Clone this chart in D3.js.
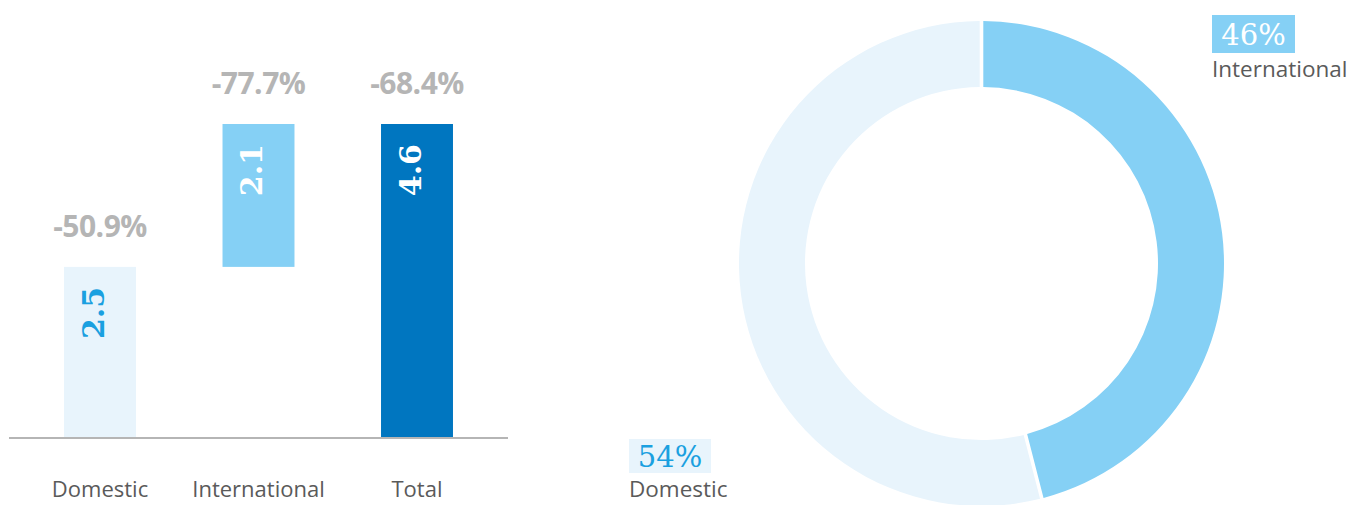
<!DOCTYPE html>
<html lang="en">
<head>
    <meta charset="UTF-8">
    <title>Revenue split</title>
    <script src="https://d3js.org/d3.v7.min.js"></script>
    <style>
        body { margin: 0; background: #fff; }
        svg { display: block; }
    </style>
</head>
<body>
<script>
    // data
    const categories = ["Domestic", "International", "Total"];
    const barStart = [0, 2.5, 0];
    const barEnd = [2.5, 4.6, 4.6];
    const valueLabels = ["2.5", "2.1", "4.6"];
    const changeLabels = ["-50.9%", "-77.7%", "-68.4%"];

    const shareNames = ["International", "Domestic"];
    const shareValues = [46, 54];

    const barColors = ["#e8f4fc", "#85d0f5", "#0076c0"];
    const valueColors = ["#1aa0e0", "#ffffff", "#ffffff"];

    let width = 1351, height = 505;

    let svg = d3.select("body").append("svg")
        .attr("width", width)
        .attr("height", height);

    // bar (waterfall) part
    let x = d3.scaleBand()
        .domain(categories)
        .range([20.75, 496.25])
        .paddingInner(0.546)
        .paddingOuter(0.273);
    let y = d3.scaleLinear().domain([0, 4.6]).range([437, 124]);

    let bars = svg.append("g");
    bars.selectAll("rect")
        .data(categories)
        .enter().append("rect")
        .attr("x", d => x(d))
        .attr("width", x.bandwidth())
        .attr("y", (d, i) => y(barEnd[i]))
        .attr("height", (d, i) => y(barStart[i]) - y(barEnd[i]))
        .attr("fill", (d, i) => barColors[i]);

    // baseline
    svg.append("line")
        .attr("x1", 9).attr("x2", 508)
        .attr("y1", y(0) + 1).attr("y2", y(0) + 1)
        .attr("stroke", "#b5b5b5")
        .attr("stroke-width", 2);

    // value inside the bar, rotated
    bars.selectAll(".val")
        .data(categories)
        .enter().append("text")
        .attr("class", "val")
        .attr("transform", (d, i) => "translate(" + (x(d) + x.bandwidth() / 2 - 7) + "," + (y(barEnd[i]) + 20) + ") rotate(-90)")
        .attr("text-anchor", "end")
        .attr("dy", "0.35em")
        .attr("fill", (d, i) => valueColors[i])
        .style("font-family", "'DejaVu Serif', serif")
        .style("font-weight", "bold")
        .style("font-size", "30px")
        .text((d, i) => valueLabels[i]);

    // change labels above
    bars.selectAll(".chg")
        .data(categories)
        .enter().append("text")
        .attr("class", "chg")
        .attr("x", d => x(d) + x.bandwidth() / 2)
        .attr("y", (d, i) => y(barEnd[i]) - 30)
        .attr("text-anchor", "middle")
        .attr("fill", "#b5b5b5")
        .style("font-family", "'Open Sans', sans-serif")
        .style("font-weight", "bold")
        .style("font-size", "30px")
        .style("letter-spacing", "-0.5px")
        .text((d, i) => changeLabels[i]);

    // category labels
    bars.selectAll(".cat")
        .data(categories)
        .enter().append("text")
        .attr("class", "cat")
        .attr("x", d => x(d) + x.bandwidth() / 2)
        .attr("y", 497)
        .attr("text-anchor", "middle")
        .attr("fill", "#5a5a5a")
        .style("font-family", "'Open Sans', sans-serif")
        .style("font-size", "22px")
        .text(d => d);

    // donut part
    let cx = 981.5, cy = 263.5, rOuter = 242.5, rInner = 176.5;
    let pie = d3.pie().sort(null).value(d => d);
    let arc = d3.arc().innerRadius(rInner).outerRadius(rOuter).padAngle(0.012);
    let donutColors = ["#85d0f5", "#e8f4fc"];

    let donut = svg.append("g").attr("transform", "translate(" + cx + "," + cy + ")");
    donut.selectAll("path")
        .data(pie(shareValues))
        .enter().append("path")
        .attr("d", arc)
        .attr("fill", (d, i) => donutColors[i]);

    // donut labels
    const labelPos = [[1212, 15, 83, 38], [629, 439, 82, 34]];
    const labelText = ["#ffffff", "#1aa0e0"];
    let lbl = svg.selectAll(".lbl")
        .data(shareNames)
        .enter().append("g")
        .attr("class", "lbl");
    lbl.append("rect")
        .attr("x", (d, i) => labelPos[i][0])
        .attr("y", (d, i) => labelPos[i][1])
        .attr("width", (d, i) => labelPos[i][2])
        .attr("height", (d, i) => labelPos[i][3])
        .attr("fill", (d, i) => donutColors[i]);
    lbl.append("text")
        .attr("x", (d, i) => labelPos[i][0] + labelPos[i][2] / 2)
        .attr("y", (d, i) => labelPos[i][1] + labelPos[i][3] / 2 + 11)
        .attr("text-anchor", "middle")
        .attr("fill", (d, i) => labelText[i])
        .style("font-family", "'DejaVu Serif', serif")
        .style("font-size", "29px")
        .text((d, i) => shareValues[i] + "%");
    lbl.append("text")
        .attr("x", (d, i) => labelPos[i][0])
        .attr("y", (d, i) => labelPos[i][1] + labelPos[i][3] + 24)
        .attr("fill", "#5a5a5a")
        .style("font-family", "'Open Sans', sans-serif")
        .style("font-size", "22.5px")
        .text(d => d);
</script>
</body>
</html>
